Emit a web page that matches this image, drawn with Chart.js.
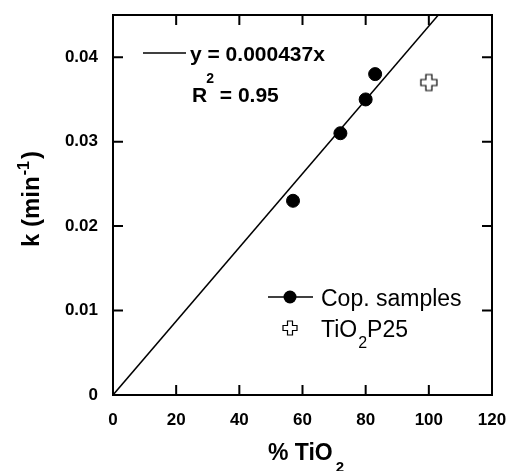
<!DOCTYPE html>
<html>
<head>
<meta charset="utf-8">
<script src="https://cdn.jsdelivr.net/npm/chart.js@4"></script>
<style>
  body { margin: 0; background: #fff; }
</style>
</head>
<body>
<canvas id="kChart" width="510" height="471"></canvas>
<script>
// values
const copX = [57, 72, 80, 83];
const copY = [0.023, 0.031, 0.035, 0.038];
const p25X = [100];
const p25Y = [0.037];
const fitX = [0, 103];
const fitY = [0, 0.045];

const FONT = "'Liberation Sans', Arial, sans-serif";

function plusPath(ctx, cx, cy, r, w) {
  ctx.beginPath();
  ctx.moveTo(cx - w, cy - r);
  ctx.lineTo(cx + w, cy - r);
  ctx.lineTo(cx + w, cy - w);
  ctx.lineTo(cx + r, cy - w);
  ctx.lineTo(cx + r, cy + w);
  ctx.lineTo(cx + w, cy + w);
  ctx.lineTo(cx + w, cy + r);
  ctx.lineTo(cx - w, cy + r);
  ctx.lineTo(cx - w, cy + w);
  ctx.lineTo(cx - r, cy + w);
  ctx.lineTo(cx - r, cy - w);
  ctx.lineTo(cx - w, cy - w);
  ctx.closePath();
  ctx.fillStyle = '#fff';
  ctx.fill();
  ctx.strokeStyle = '#000';
  ctx.lineWidth = 1.2;
  ctx.stroke();
}

const crossImg = document.createElement('canvas');
crossImg.width = 20;
crossImg.height = 20;
plusPath(crossImg.getContext('2d'), 10, 10, 8, 3);

function toXY(xs, ys) {
  return xs.map((v, i) => ({x: v, y: ys[i]}));
}

const decor = {
  id: 'decor',
  afterDraw(chart) {
    const {ctx, chartArea: a, scales: {x, y}} = chart;
    ctx.save();
    ctx.strokeStyle = '#000';
    ctx.fillStyle = '#000';
    ctx.lineWidth = 2;
    ctx.strokeRect(a.left, a.top, a.right - a.left, a.bottom - a.top);

    // inward ticks on all four sides
    ctx.beginPath();
    x.ticks.forEach(t => {
      const px = x.getPixelForValue(t.value);
      ctx.moveTo(px, a.bottom); ctx.lineTo(px, a.bottom - 10);
      ctx.moveTo(px, a.top); ctx.lineTo(px, a.top + 10);
    });
    y.ticks.forEach(t => {
      const py = y.getPixelForValue(t.value);
      ctx.moveTo(a.left, py); ctx.lineTo(a.left + 10, py);
      ctx.moveTo(a.right, py); ctx.lineTo(a.right - 10, py);
    });
    ctx.stroke();

    // fit equation
    ctx.lineWidth = 1.5;
    ctx.beginPath();
    ctx.moveTo(143, 53); ctx.lineTo(186, 53);
    ctx.stroke();
    ctx.textBaseline = 'alphabetic';
    ctx.textAlign = 'left';
    ctx.font = 'bold 21px ' + FONT;
    ctx.fillText('y = 0.000437x', 190, 61);
    ctx.fillText('R', 192, 102);
    let w = ctx.measureText('R').width;
    ctx.font = 'bold 14px ' + FONT;
    ctx.fillText('2', 192 + w - 1, 83);
    const wr = ctx.measureText('2').width;
    ctx.font = 'bold 21px ' + FONT;
    ctx.fillText(' = 0.95', 192 + w + wr - 1, 102);

    // legend
    ctx.lineWidth = 1.5;
    ctx.beginPath();
    ctx.moveTo(268, 297); ctx.lineTo(313, 297);
    ctx.stroke();
    ctx.beginPath();
    ctx.arc(290, 297, 6.5, 0, Math.PI * 2);
    ctx.fill();
    ctx.font = '23px ' + FONT;
    ctx.fillText('Cop. samples', 321, 306);
    plusPath(ctx, 290, 328, 7, 2.5);
    ctx.fillStyle = '#000';
    ctx.font = '23px ' + FONT;
    ctx.fillText('TiO', 321, 337);
    w = ctx.measureText('TiO').width;
    ctx.font = '16px ' + FONT;
    ctx.fillText('2', 321 + w + 1, 348);
    const w2 = ctx.measureText('2').width;
    ctx.font = '23px ' + FONT;
    ctx.fillText('P25', 321 + w + w2 + 1, 337);

    // x title
    ctx.font = 'bold 23px ' + FONT;
    ctx.fillText('% TiO', 268, 460);
    w = ctx.measureText('% TiO').width;
    ctx.font = 'bold 15px ' + FONT;
    ctx.fillText('2', 268 + w + 3, 472);

    // y title, rotated
    ctx.translate(39, 247);
    ctx.rotate(-Math.PI / 2);
    ctx.font = 'bold 24px ' + FONT;
    ctx.fillText('k (min', 0, 0);
    w = ctx.measureText('k (min').width;
    ctx.font = 'bold 16px ' + FONT;
    ctx.fillText('-1', w + 1, -10);
    const w3 = ctx.measureText('-1').width;
    ctx.font = 'bold 24px ' + FONT;
    ctx.fillText(')', w + w3 + 3, 0);
    ctx.restore();
  }
};

new Chart('kChart', {
  type: 'scatter',
  data: {
    datasets: [
      {
        label: 'fit',
        data: toXY(fitX, fitY),
        showLine: true,
        borderColor: '#000',
        borderWidth: 1.5,
        pointRadius: 0
      },
      {
        label: 'Cop. samples',
        data: toXY(copX, copY),
        backgroundColor: '#000',
        borderColor: '#000',
        pointRadius: 6.5
      },
      {
        label: 'TiO2 P25',
        data: toXY(p25X, p25Y),
        pointStyle: crossImg
      }
    ]
  },
  options: {
    responsive: false,
    animation: false,
    layout: {padding: {top: 15, right: 18, left: 0, bottom: 0}},
    plugins: {
      legend: {display: false},
      tooltip: {enabled: false}
    },
    scales: {
      x: {
        min: 0,
        max: 120,
        grid: {display: false},
        border: {display: false},
        afterFit(scale) {
          scale.height = 76;
          scale.paddingLeft = 0;
          scale.paddingRight = 0;
        },
        ticks: {
          stepSize: 20,
          padding: 7,
          color: '#000',
          maxRotation: 0,
          font: {family: FONT, size: 17, weight: 'bold'}
        }
      },
      y: {
        min: 0,
        max: 0.045,
        grid: {display: false},
        border: {display: false},
        afterFit(scale) {
          scale.width = 113;
          scale.paddingTop = 0;
          scale.paddingBottom = 0;
        },
        ticks: {
          stepSize: 0.01,
          includeBounds: false,
          padding: 7,
          color: '#000',
          font: {family: FONT, size: 17, weight: 'bold'},
          callback: v => String(Number(v.toFixed(2)))
        }
      }
    }
  },
  plugins: [decor]
});
</script>
</body>
</html>
